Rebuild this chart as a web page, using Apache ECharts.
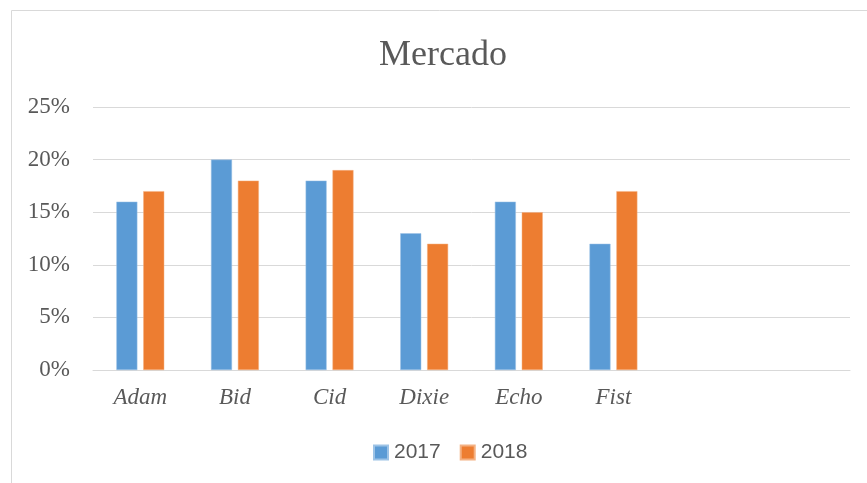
<!DOCTYPE html>
<html>
<head>
<meta charset="utf-8">
<script src="https://cdn.jsdelivr.net/npm/echarts@6/dist/echarts.min.js"></script>
<style>
    html, body { margin: 0; padding: 0; background: #fff; }
    #main { width: 867px; height: 483px; }
</style>
</head>
<body>
<div id="main"></div>
<script>
// 数据
var categories = ['Adam', 'Bid', 'Cid', 'Dixie', 'Echo', 'Fist', '', ''];
var values2017 = [16, 20, 18, 13, 16, 12];
var values2018 = [17, 18, 19, 12, 15, 17];
var yTicks = [0, 5, 10, 15, 20, 25];

(function () {
    let myechart = echarts.init(document.getElementById('main'));
    var option = {
        animation: false,
        color: ['#5b9bd5', '#ed7d31'],
        title: {
            text: 'Mercado',
            left: 438,
            textAlign: 'center',
            top: 33,
            textStyle: {
                fontFamily: 'Liberation Serif',
                fontSize: 36,
                fontWeight: 'normal',
                color: '#595959'
            }
        },
        // 外框
        graphic: [{
            type: 'rect',
            shape: { x: 11.5, y: 10.5, width: 900, height: 520 },
            style: { fill: 'none', stroke: '#d9d9d9', lineWidth: 1 },
            silent: true
        }],
        legend: {
            left: 368,
            top: 437,
            itemWidth: 14,
            itemHeight: 14,
            itemGap: 19,
            icon: 'rect',
            textStyle: {
                fontFamily: 'Liberation Sans',
                fontSize: 21,
                color: '#595959',
                padding: [0, 0, 0, 1]
            },
            data: ['2017', '2018']
        },
        grid: {
            left: 93,
            right: 17,
            top: 107,
            bottom: 113,
            containLabel: false
        },
        xAxis: {
            type: 'category',
            data: categories,
            axisTick: { show: false },
            axisLine: { lineStyle: { color: '#d9d9d9', width: 1 } },
            axisLabel: {
                margin: 16,
                fontFamily: 'Liberation Serif',
                fontStyle: 'italic',
                fontSize: 23,
                color: '#595959'
            }
        },
        yAxis: {
            type: 'value',
            min: yTicks[0],
            max: yTicks[yTicks.length - 1],
            interval: 5,
            axisLine: { show: false },
            axisTick: { show: false },
            axisLabel: {
                margin: 23,
                formatter: '{value}%',
                fontFamily: 'Liberation Serif',
                fontSize: 23,
                color: '#595959'
            },
            splitLine: { lineStyle: { color: '#d9d9d9', width: 1 } }
        },
        series: [
            {
                name: '2017',
                type: 'bar',
                data: values2017,
                barWidth: 21,
                barGap: '28%',
                itemStyle: { borderColor: '#9dc3e6', borderWidth: 0.5 }
            },
            {
                name: '2018',
                type: 'bar',
                data: values2018,
                barWidth: 21,
                barGap: '28%',
                itemStyle: { borderColor: '#f4b183', borderWidth: 0.5 }
            }
        ]
    };
    myechart.setOption(option);
    window.addEventListener('resize', function () {
        myechart.resize();
    });
})();
</script>
</body>
</html>
